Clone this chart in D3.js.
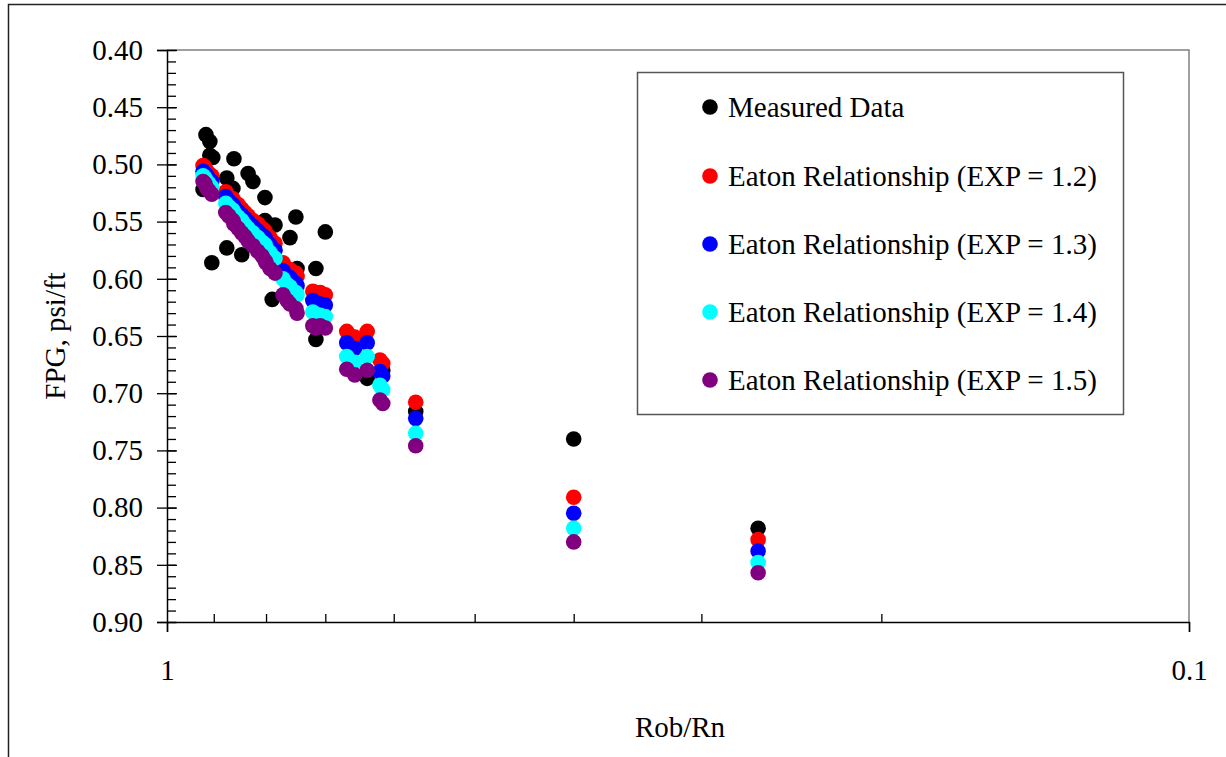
<!DOCTYPE html>
<html>
<head>
<meta charset="utf-8">
<script src="https://cdn.jsdelivr.net/npm/d3@7"></script>
<style>
  html, body { margin: 0; padding: 0; background: #fff; }
  svg { display: block; }
  svg text { font-family: "Liberation Serif", "Times New Roman", serif !important; fill: #000; }
</style>
</head>
<body>
<svg id="chart" width="1226" height="757"></svg>
<script>
// Measured fracture pressure gradient vs. resistivity ratio
const measuredRatio = [0.916, 0.908, 0.908, 0.902, 0.860, 0.922, 0.874, 0.833, 0.824, 0.862,
                       0.802, 0.802, 0.784, 0.748, 0.758, 0.700, 0.874, 0.904, 0.845, 0.789,
                       0.746, 0.715, 0.715, 0.637, 0.615, 0.571, 0.400, 0.264];
const measuredFpg   = [0.474, 0.480, 0.492, 0.494, 0.495, 0.522, 0.512, 0.508, 0.515, 0.521,
                       0.529, 0.549, 0.553, 0.546, 0.564, 0.559, 0.573, 0.586, 0.579, 0.618,
                       0.591, 0.591, 0.653, 0.687, 0.680, 0.716, 0.740, 0.818];

// Eaton predictions at the log resistivity ratios
const eatonRatio = [0.922, 0.918, 0.914, 0.910, 0.904, 0.876, 0.870, 0.862, 0.860, 0.852,
                    0.845, 0.839, 0.833, 0.824, 0.815, 0.807, 0.802, 0.800, 0.793, 0.784,
                    0.770, 0.763, 0.758, 0.748, 0.746, 0.720, 0.715, 0.708, 0.700, 0.667,
                    0.655, 0.637, 0.619, 0.615, 0.571, 0.400, 0.264];
const eatonExp12 = [0.501, 0.503, 0.506, 0.508, 0.510, 0.524, 0.528, 0.530, 0.533, 0.535,
                    0.539, 0.542, 0.545, 0.549, 0.552, 0.556, 0.558, 0.561, 0.564, 0.569,
                    0.586, 0.591, 0.592, 0.595, 0.598, 0.611, 0.612, 0.612, 0.614, 0.646,
                    0.651, 0.646, 0.671, 0.674, 0.708, 0.791, 0.828];
const eatonExp13 = [0.506, 0.508, 0.510, 0.513, 0.515, 0.528, 0.532, 0.535, 0.537, 0.541,
                    0.544, 0.547, 0.550, 0.554, 0.558, 0.562, 0.564, 0.567, 0.570, 0.575,
                    0.593, 0.598, 0.599, 0.604, 0.606, 0.619, 0.621, 0.622, 0.623, 0.656,
                    0.661, 0.656, 0.681, 0.685, 0.722, 0.805, 0.838];
const eatonExp14 = [0.510, 0.512, 0.515, 0.517, 0.520, 0.534, 0.537, 0.540, 0.542, 0.546,
                    0.549, 0.553, 0.556, 0.560, 0.564, 0.568, 0.570, 0.573, 0.577, 0.582,
                    0.600, 0.605, 0.607, 0.612, 0.614, 0.629, 0.631, 0.632, 0.633, 0.668,
                    0.673, 0.668, 0.693, 0.697, 0.735, 0.818, 0.848];
const eatonExp15 = [0.515, 0.517, 0.521, 0.523, 0.526, 0.542, 0.545, 0.549, 0.552, 0.556,
                    0.560, 0.563, 0.567, 0.571, 0.576, 0.580, 0.584, 0.586, 0.591, 0.595,
                    0.614, 0.619, 0.622, 0.626, 0.630, 0.641, 0.643, 0.641, 0.643, 0.679,
                    0.684, 0.680, 0.706, 0.709, 0.746, 0.830, 0.857];

const seriesNames  = ["Measured Data", "Eaton Relationship (EXP = 1.2)", "Eaton Relationship (EXP = 1.3)",
                      "Eaton Relationship (EXP = 1.4)", "Eaton Relationship (EXP = 1.5)"];
const seriesColors = ["#000000", "#ff0000", "#0000ff", "#00ffff", "#800080"];

const xMajorTicks = [1, 0.1];
const xMinorTicks = [0.9, 0.8, 0.7, 0.6, 0.5, 0.4, 0.3, 0.2];
const yMajorTicks = [0.40, 0.45, 0.50, 0.55, 0.60, 0.65, 0.70, 0.75, 0.80, 0.85, 0.90];
const yMinorTicks = d3.range(40, 91).map(v => v / 100);

const svg = d3.select("#chart");
const W = 1226, H = 757;
const plot = { left: 167, right: 1189, top: 50, bottom: 622 };
const fontSize = 29;
const serif = "Liberation Serif, Times New Roman, serif";

svg.append("rect").attr("width", W).attr("height", H).attr("fill", "#fff");
// chart frame
svg.append("rect").attr("x", 8.5).attr("y", 4.5).attr("width", 1240).attr("height", 780)
  .attr("fill", "none").attr("stroke", "#222").attr("stroke-width", 1.5);

const x = d3.scaleLog().domain([1, 0.1]).range([plot.left, plot.right]);
const y = d3.scaleLinear().domain([0.40, 0.90]).range([plot.top, plot.bottom]);

// plot area border (top and right)
svg.append("path")
  .attr("d", `M${plot.left},${plot.top}H${plot.right}V${plot.bottom}`)
  .attr("fill", "none").attr("stroke", "#808080").attr("stroke-width", 1.5);

// y axis
const yMinor = svg.append("g").attr("transform", `translate(${plot.left},0)`)
  .call(d3.axisLeft(y).tickValues(yMinorTicks).tickSize(-9).tickFormat(""));
const yMajor = svg.append("g").attr("transform", `translate(${plot.left},0)`)
  .call(d3.axisLeft(y).tickValues(yMajorTicks).tickSize(10).tickPadding(14).tickFormat(d3.format(".2f")));
yMajor.selectAll(".tick").append("line").attr("x2", 10).attr("stroke", "#000");

// x axis
const xMinor = svg.append("g").attr("transform", `translate(0,${plot.bottom})`)
  .call(d3.axisBottom(x).tickValues(xMinorTicks).tickSize(-8).tickFormat(""));
const xMajor = svg.append("g").attr("transform", `translate(0,${plot.bottom})`)
  .call(d3.axisBottom(x).tickValues(xMajorTicks).tickSize(10).tickPadding(27)
    .tickFormat(d => d === 1 ? "1" : "0.1"));

[yMinor, yMajor, xMinor, xMajor].forEach(g => {
  g.attr("font-family", serif);
  g.selectAll(".domain").attr("stroke", "#000").attr("stroke-width", 1.5);
  g.selectAll(".tick line").attr("stroke", "#000").attr("stroke-width", 1.3);
  g.selectAll(".tick text").attr("font-size", fontSize).style("font-family", serif);
});
xMinor.select(".domain").remove();
yMinor.select(".domain").remove();

// axis titles
svg.append("text").attr("x", 680).attr("y", 737).attr("text-anchor", "middle")
  .attr("font-size", fontSize).style("font-family", serif).text("Rob/Rn");
svg.append("text").attr("transform", "translate(65,336) rotate(-90)").attr("text-anchor", "middle")
  .attr("font-size", fontSize).style("font-family", serif).text("FPG, psi/ft");

// points
const allSeries = [
  { ratio: measuredRatio, fpg: measuredFpg },
  { ratio: eatonRatio, fpg: eatonExp12 },
  { ratio: eatonRatio, fpg: eatonExp13 },
  { ratio: eatonRatio, fpg: eatonExp14 },
  { ratio: eatonRatio, fpg: eatonExp15 }
];
const r = 7.8;
allSeries.forEach((s, i) => {
  const pts = s.ratio.map((v, j) => [v, s.fpg[j]]);
  svg.append("g").selectAll("circle").data(pts).join("circle")
    .attr("cx", d => x(d[0])).attr("cy", d => y(d[1])).attr("r", r)
    .attr("fill", seriesColors[i]);
});

// legend
const legend = svg.append("g");
legend.append("rect").attr("x", 637.5).attr("y", 72.5).attr("width", 486).attr("height", 342)
  .attr("fill", "#fff").attr("stroke", "#555").attr("stroke-width", 1.5);
const rowY = [107, 176, 244, 312, 380];
seriesNames.forEach((name, i) => {
  legend.append("circle").attr("cx", 710).attr("cy", rowY[i]).attr("r", 7.8).attr("fill", seriesColors[i]);
  legend.append("text").attr("x", 728).attr("y", rowY[i]).attr("dy", "0.35em")
    .attr("font-size", fontSize).style("font-family", serif).text(name);
});
</script>
</body>
</html>
